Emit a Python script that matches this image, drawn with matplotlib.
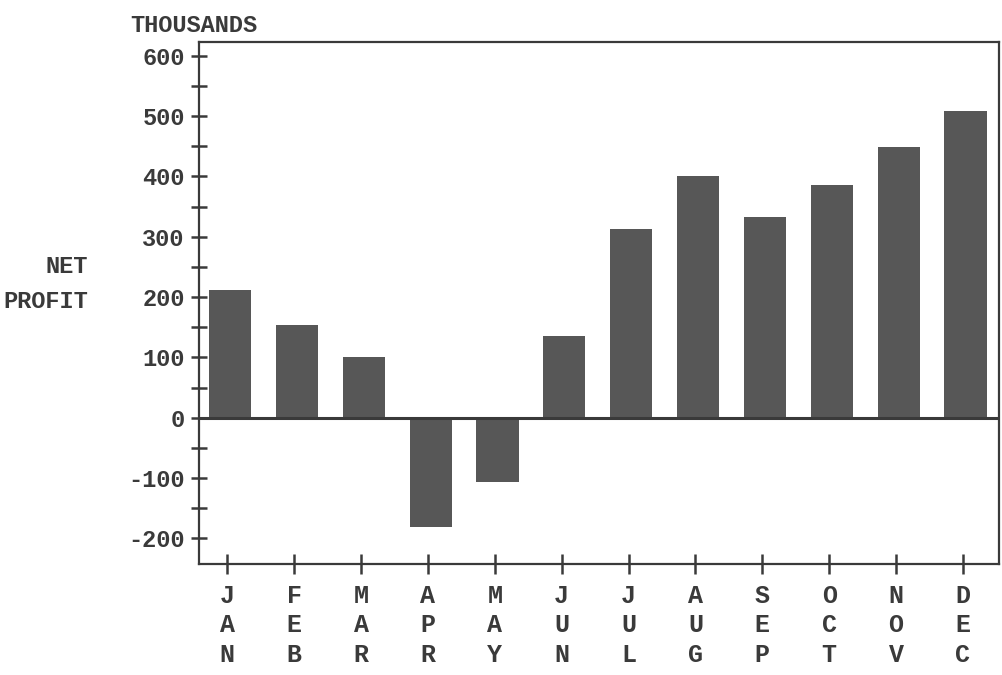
import numpy as np
import matplotlib.pyplot as plt
from matplotlib.ticker import MultipleLocator

# Dados (milhares)
months = ["JAN", "FEB", "MAR", "APR", "MAY", "JUN",
          "JUL", "AUG", "SEP", "OCT", "NOV", "DEC"]
net_profit = [212, 153, 101, -181, -106, 136,
              312, 400, 332, 386, 448, 509]
y_ticks = [-200, -100, 0, 100, 200, 300, 400, 500, 600]

ink = "#3a3a3a"
bar_color = "#575757"
font = dict(family=["Liberation Mono", "DejaVu Sans Mono"], weight="bold")

fig = plt.figure(figsize=(10.03, 6.75), dpi=100)
ax = fig.add_axes([0.198, 0.164, 0.798, 0.774])

x = np.arange(len(months))
ax.bar(x + 0.04, net_profit, width=0.63, color=bar_color, zorder=2)
ax.axhline(0, color=ink, linewidth=2.2, zorder=3)

ax.set_xlim(-0.43, 11.54)
ax.set_ylim(-243, 623)

ax.set_yticks(y_ticks)
ax.set_yticklabels([str(v) for v in y_ticks], color=ink, fontsize=17, **font)
ax.yaxis.set_minor_locator(MultipleLocator(50))
ax.tick_params(axis="y", which="both", direction="inout", length=12,
               width=1.8, color=ink, pad=4)

# rótulos do eixo x empilhados na vertical, uma letra por linha
ax.set_xticks(x)
ax.set_xticklabels(["\n".join(m) for m in months], color=ink, fontsize=18,
                   linespacing=1.3, **font)
ax.tick_params(axis="x", direction="inout", length=14, width=1.8,
               color=ink, pad=7)

for s in ax.spines.values():
    s.set_color(ink)
    s.set_linewidth(1.6)

fig.text(0.13, 0.945, "THOUSANDS", color=ink, fontsize=17, ha="left",
         va="bottom", **font)
fig.text(0.088, 0.605, "NET", color=ink, fontsize=17, ha="right",
         va="center", **font)
fig.text(0.088, 0.553, "PROFIT", color=ink, fontsize=17, ha="right",
         va="center", **font)

fig.savefig("out.png", dpi=100)
